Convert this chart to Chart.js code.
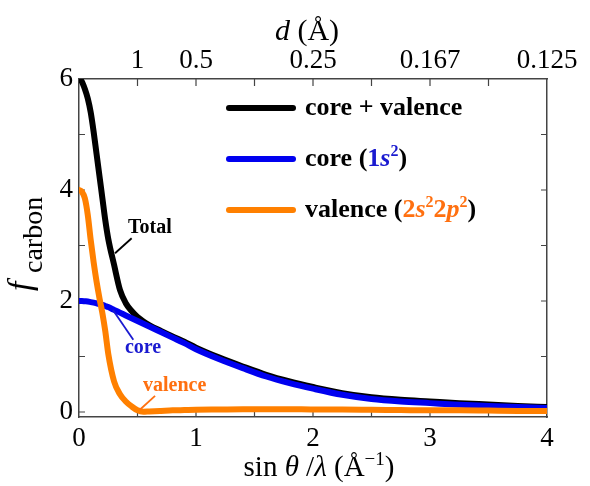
<!DOCTYPE html>
<html>
<head>
<meta charset="utf-8">
<script src="https://cdn.jsdelivr.net/npm/chart.js@4.4.0/dist/chart.umd.min.js"></script>
<style>
  html, body { margin: 0; padding: 0; background: #fff; }
  canvas { display: block; }
</style>
</head>
<body>
<canvas id="chart" width="590" height="486"></canvas>
<script>
// sin(theta)/lambda (1/Å) sample points and carbon form factors
const sVals    = [0, 0.025, 0.05, 0.075, 0.1, 0.125, 0.15, 0.175, 0.2, 0.225, 0.25, 0.3, 0.35, 0.4, 0.45, 0.5, 0.55, 0.6, 0.7, 0.8, 0.9, 1.0, 1.2, 1.4, 1.6, 1.8, 2.0, 2.25, 2.5, 2.75, 3.0, 3.25, 3.5, 3.75, 4.0];
const fTotal   = [6.0, 5.95, 5.82, 5.65, 5.4, 5.05, 4.65, 4.25, 3.85, 3.45, 3.12, 2.65, 2.2, 1.96, 1.82, 1.71, 1.63, 1.565, 1.46, 1.36, 1.265, 1.16, 0.98, 0.82, 0.67, 0.55, 0.45, 0.34, 0.265, 0.22, 0.19, 0.16, 0.135, 0.11, 0.09];
const fCore    = [2.0, 2.0, 1.995, 1.99, 1.98, 1.97, 1.96, 1.945, 1.93, 1.91, 1.89, 1.84, 1.79, 1.74, 1.69, 1.64, 1.59, 1.54, 1.44, 1.34, 1.24, 1.13, 0.95, 0.79, 0.64, 0.52, 0.42, 0.31, 0.235, 0.19, 0.16, 0.13, 0.11, 0.09, 0.07];
const fValence = [4.0, 3.97, 3.85, 3.55, 3.1, 2.7, 2.35, 2.05, 1.78, 1.45, 1.05, 0.55, 0.32, 0.19, 0.1, 0.03, 0.005, 0.01, 0.02, 0.03, 0.035, 0.04, 0.045, 0.05, 0.05, 0.05, 0.045, 0.045, 0.04, 0.035, 0.03, 0.03, 0.025, 0.02, 0.02];

const xTickLabels = [0, 1, 2, 3, 4];
const xTickMarks = [0.5, 1, 1.5, 2, 2.5, 3, 3.5];
const yTickLabels = [0, 2, 4, 6];
const yTickMarks = [0, 1, 2, 3, 4, 5];
const dTickValues = [0.5, 1, 2, 3, 4];          // positions on the sin(theta)/lambda axis
const dTickLabels = ['1', '0.5', '0.25', '0.167', '0.125'];

const SERIF = '"Liberation Serif", "Times New Roman", serif';
const AXIS = '#444';
const BLACK = '#000000', BLUE = '#0000f0', ORANGE = '#ff8000';
const BLUE_TXT = '#1a1ad0', ORANGE_TXT = '#ff7010';

const pts = ys => sVals.map((s, i) => ({x: s, y: ys[i]}));

function drawRuns(ctx, x, y, runs, align) {
    let total = 0;
    runs.forEach(r => { ctx.font = r.font; r.w = ctx.measureText(r.text).width; total += r.w; });
    let cx = align === 'center' ? x - total / 2 : x;
    runs.forEach(r => {
        ctx.font = r.font;
        ctx.fillStyle = r.color || '#000';
        ctx.fillText(r.text, cx, y + (r.dy || 0));
        cx += r.w;
    });
}

const tickMarks = {
    id: 'tickMarks',
    beforeDatasetsDraw(chart) {
        const {ctx, chartArea: a, scales} = chart;
        ctx.save();
        ctx.strokeStyle = AXIS;
        ctx.lineWidth = 1.2;
        ctx.beginPath();
        xTickMarks.forEach(v => {
            const px = scales.x.getPixelForValue(v);
            ctx.moveTo(px, a.bottom); ctx.lineTo(px, a.bottom - 5);
            ctx.moveTo(px, a.top); ctx.lineTo(px, a.top + 7);
        });
        yTickMarks.forEach(v => {
            const py = scales.y.getPixelForValue(v);
            ctx.moveTo(a.left, py); ctx.lineTo(a.left + 6, py);
            ctx.moveTo(a.right, py); ctx.lineTo(a.right - 6, py);
        });
        ctx.stroke();
        ctx.restore();
    }
};

const texts = {
    id: 'texts',
    afterDraw(chart) {
        const {ctx, chartArea: a, scales} = chart;
        const X = v => scales.x.getPixelForValue(v), Y = v => scales.y.getPixelForValue(v);
        ctx.save();
        ctx.textBaseline = 'alphabetic';

        // top title
        drawRuns(ctx, (a.left + a.right) / 2 - 6, 40, [
            {text: 'd', font: 'italic 30px ' + SERIF},
            {text: ' (Å)', font: '30px ' + SERIF}
        ], 'center');

        // bottom title
        drawRuns(ctx, 319, 476, [
            {text: 'sin ', font: '29px ' + SERIF},
            {text: 'θ', font: 'italic 29px ' + SERIF},
            {text: ' /', font: '29px ' + SERIF},
            {text: 'λ', font: 'italic 29px ' + SERIF},
            {text: ' (Å', font: '29px ' + SERIF},
            {text: '−1', font: '19px ' + SERIF, dy: -11},
            {text: ')', font: '29px ' + SERIF}
        ], 'center');

        // y title, rotated
        ctx.save();
        ctx.translate(0, 293);
        ctx.rotate(-Math.PI / 2);
        ctx.font = 'italic 34px ' + SERIF;
        ctx.fillStyle = '#000';
        ctx.fillText('f', 2, 31);
        ctx.font = '28px ' + SERIF;
        ctx.fillText('carbon', 20, 42);
        ctx.restore();

        // legend
        const legend = [
            {y: 108, color: BLACK, runs: [{text: 'core + valence'}]},
            {y: 159, color: BLUE, runs: [
                {text: 'core ('}, {text: '1', color: BLUE_TXT}, {text: 's', color: BLUE_TXT, italic: true},
                {text: '2', color: BLUE_TXT, sup: true}, {text: ')'}]},
            {y: 210, color: ORANGE, runs: [
                {text: 'valence ('}, {text: '2', color: ORANGE_TXT}, {text: 's', color: ORANGE_TXT, italic: true},
                {text: '2', color: ORANGE_TXT, sup: true}, {text: '2', color: ORANGE_TXT},
                {text: 'p', color: ORANGE_TXT, italic: true}, {text: '2', color: ORANGE_TXT, sup: true}, {text: ')'}]}
        ];
        legend.forEach(item => {
            ctx.strokeStyle = item.color;
            ctx.lineWidth = 6;
            ctx.lineCap = 'round';
            ctx.beginPath();
            ctx.moveTo(229, item.y);
            ctx.lineTo(293, item.y);
            ctx.stroke();
            drawRuns(ctx, 305, item.y + 7, item.runs.map(r => ({
                text: r.text,
                color: r.color || '#000',
                font: r.sup ? 'bold 16px ' + SERIF : (r.italic ? 'italic bold 26px ' : 'bold 26px ') + SERIF,
                dy: r.sup ? -10 : 0
            })));
        });

        // curve labels with leader lines
        const notes = [
            {text: 'Total', color: BLACK, at: [0.419, 3.23], line: [[0.45, 3.13], [0.308, 2.86]]},
            {text: 'core', color: BLUE_TXT, at: [0.393, 1.07], line: [[0.464, 1.30], [0.29, 1.84]]},
            {text: 'valence', color: ORANGE_TXT, at: [0.547, 0.38], line: [[0.65, 0.29], [0.52, 0.04]]}
        ];
        notes.forEach(n => {
            ctx.font = 'bold 20px ' + SERIF;
            ctx.fillStyle = n.color;
            ctx.fillText(n.text, X(n.at[0]), Y(n.at[1]));
            ctx.strokeStyle = n.color;
            ctx.lineWidth = 1.8;
            ctx.lineCap = 'butt';
            ctx.beginPath();
            ctx.moveTo(X(n.line[0][0]), Y(n.line[0][1]));
            ctx.lineTo(X(n.line[1][0]), Y(n.line[1][1]));
            ctx.stroke();
        });
        ctx.restore();
    }
};

const tickFont = {family: SERIF, size: 27};

new Chart(document.getElementById('chart'), {
    type: 'line',
    data: {
        datasets: [
            {label: 'valence', data: pts(fValence), borderColor: ORANGE, order: 0},
            {label: 'core', data: pts(fCore), borderColor: BLUE, order: 1},
            {label: 'total', data: pts(fTotal), borderColor: BLACK, order: 2}
        ]
    },
    options: {
        responsive: false,
        animation: false,
        devicePixelRatio: 1,
        layout: {padding: 0},
        datasets: {
            line: {borderWidth: 6, pointRadius: 0, cubicInterpolationMode: 'monotone', borderCapStyle: 'round', borderJoinStyle: 'round', fill: false}
        },
        plugins: {legend: {display: false}, tooltip: {enabled: false}},
        scales: {
            x: {
                type: 'linear', position: 'bottom', min: 0, max: 4,
                afterBuildTicks: s => { s.ticks = xTickLabels.map(v => ({value: v})); },
                ticks: {font: tickFont, color: '#000', padding: 6, maxRotation: 0, autoSkip: false},
                grid: {display: false, drawTicks: false},
                border: {color: AXIS, width: 1.5},
                afterFit: s => { s.height = 69; }
            },
            x2: {
                type: 'linear', position: 'top', axis: 'x', min: 0, max: 4,
                afterBuildTicks: s => { s.ticks = dTickValues.map(v => ({value: v})); },
                ticks: {font: tickFont, color: '#000', padding: 2, maxRotation: 0, autoSkip: false,
                        callback: (v, i) => dTickLabels[i]},
                grid: {display: false, drawTicks: false},
                border: {color: AXIS, width: 1.5},
                afterFit: s => { s.height = 79; }
            },
            y: {
                type: 'linear', position: 'left', min: -0.09, max: 6,
                afterBuildTicks: s => { s.ticks = yTickLabels.map(v => ({value: v})); },
                ticks: {font: tickFont, color: '#000', padding: 6},
                grid: {display: false, drawTicks: false},
                border: {color: AXIS, width: 1.5},
                afterFit: s => { s.width = 79; }
            },
            y2: {
                type: 'linear', position: 'right', axis: 'y', min: -0.09, max: 6,
                ticks: {display: false},
                grid: {display: false, drawTicks: false},
                border: {color: AXIS, width: 1.5},
                afterFit: s => { s.width = 43; }
            }
        }
    },
    plugins: [tickMarks, texts]
});
</script>
</body>
</html>
